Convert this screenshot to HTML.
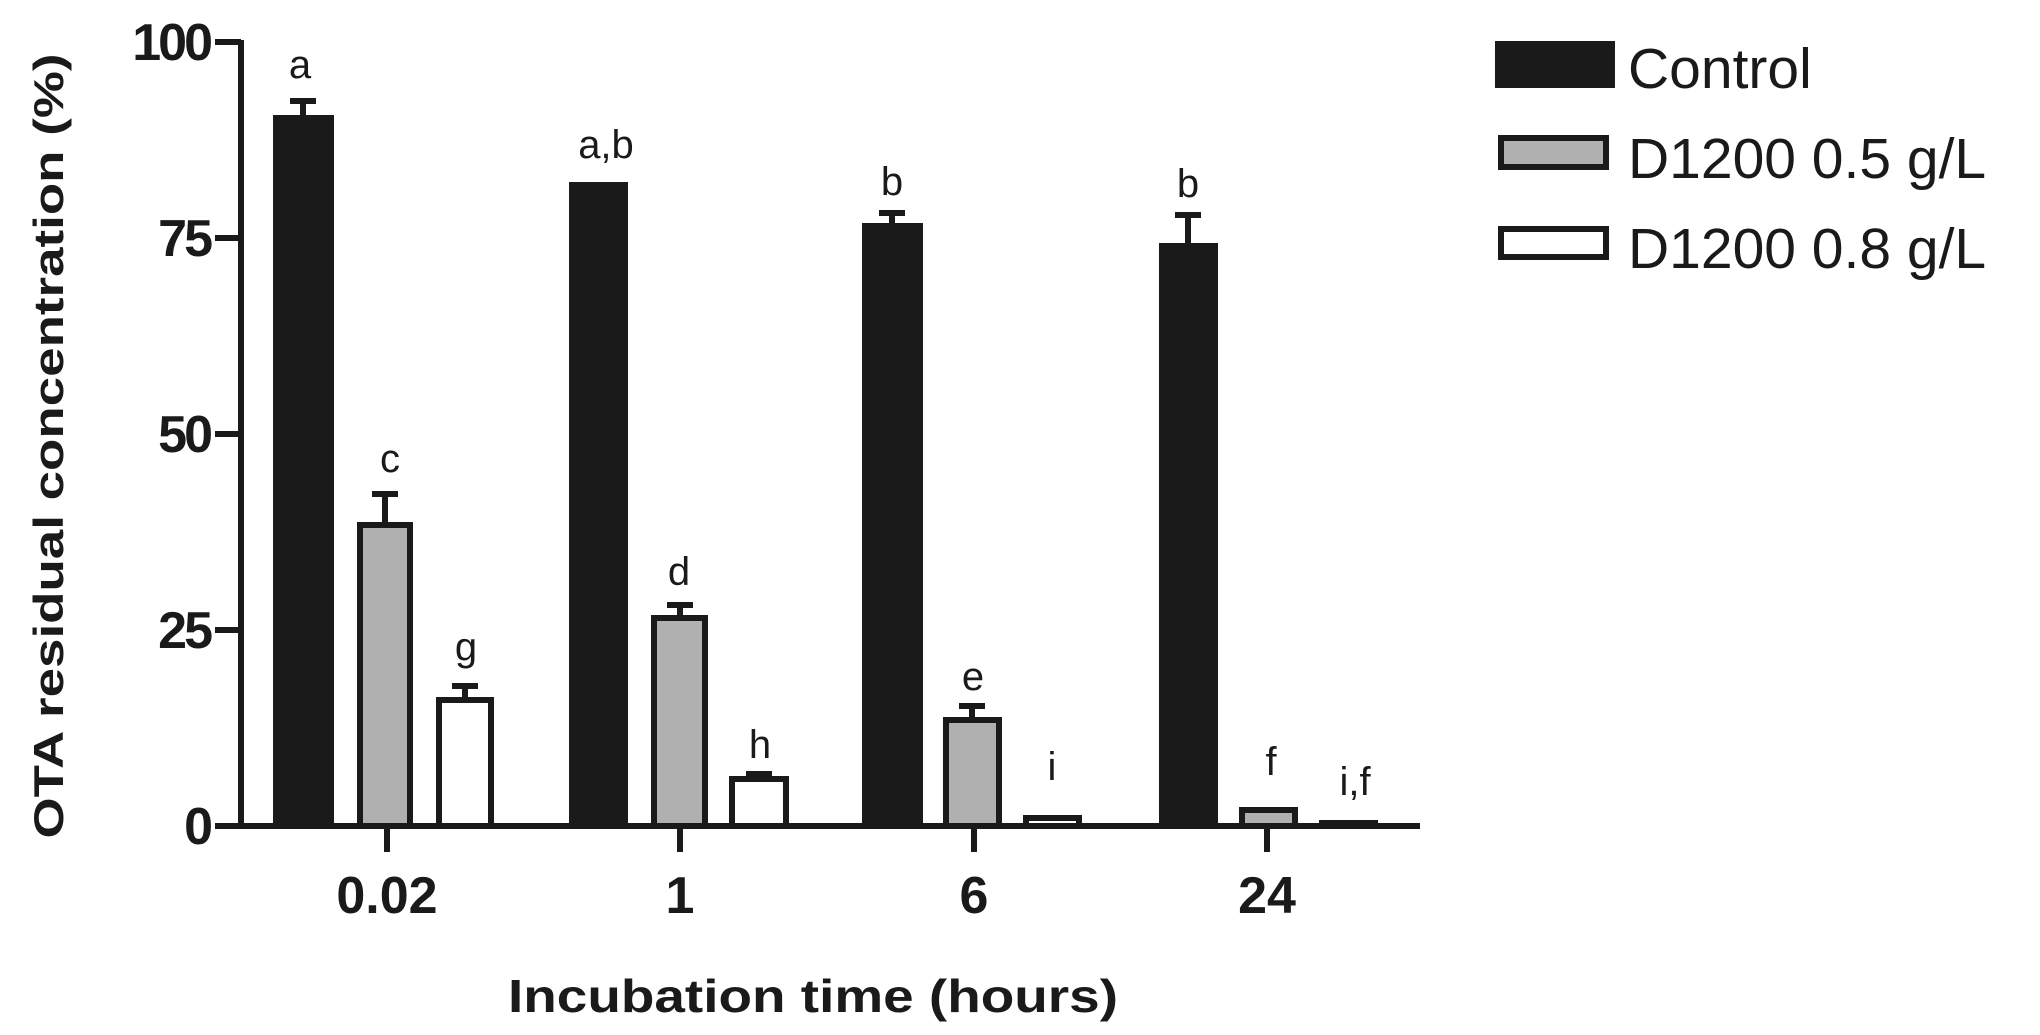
<!DOCTYPE html>
<html><head><meta charset="utf-8"><style>
html,body{margin:0;padding:0;background:#fff;}
svg{display:block;}
text{font-family:"Liberation Sans",Arial,sans-serif;fill:#1a1a1a;}
</style></head><body>
<svg width="2040" height="1035" viewBox="0 0 2040 1035" xmlns="http://www.w3.org/2000/svg">
<g stroke="#1a1a1a" stroke-width="6" fill="#1a1a1a">
<line x1="303" y1="101" x2="303" y2="118"/><line x1="290" y1="101" x2="316" y2="101"/>
<line x1="385" y1="494" x2="385" y2="525"/><line x1="372" y1="494" x2="398" y2="494"/>
<line x1="465" y1="686" x2="465" y2="700"/><line x1="452" y1="686" x2="478" y2="686"/>
<line x1="680" y1="605" x2="680" y2="618"/><line x1="667" y1="605" x2="693" y2="605"/>
<line x1="759" y1="774" x2="759" y2="779"/><line x1="746" y1="774" x2="772" y2="774"/>
<line x1="892" y1="213" x2="892" y2="226"/><line x1="879" y1="213" x2="905" y2="213"/>
<line x1="972" y1="706" x2="972" y2="720"/><line x1="959" y1="706" x2="985" y2="706"/>
<line x1="1188" y1="215" x2="1188" y2="246"/><line x1="1175" y1="215" x2="1201" y2="215"/>
<rect x="276" y="118" width="55" height="708"/>
<rect x="572" y="185" width="53" height="641"/>
<rect x="865" y="226" width="55" height="600"/>
<rect x="1162" y="246" width="53" height="580"/>
<rect x="360" y="525" width="50" height="301" fill="#b0b0b0"/>
<rect x="654" y="618" width="51" height="208" fill="#b0b0b0"/>
<rect x="946" y="720" width="53" height="106" fill="#b0b0b0"/>
<rect x="1242" y="810" width="53" height="16" fill="#b0b0b0"/>
<rect x="439" y="700" width="52" height="126" fill="#fff"/>
<rect x="732" y="779" width="54" height="47" fill="#fff"/>
<rect x="1026" y="818" width="53" height="8" fill="#fff"/>
<rect x="1322" y="823" width="53" height="3" fill="#fff"/>
<line x1="241" y1="40" x2="241" y2="829"/>
<line x1="238" y1="826" x2="1420" y2="826"/>
<line x1="215" y1="42" x2="241" y2="42"/>
<line x1="215" y1="238" x2="241" y2="238"/>
<line x1="215" y1="434" x2="241" y2="434"/>
<line x1="215" y1="630" x2="241" y2="630"/>
<line x1="215" y1="826" x2="241" y2="826"/>
<line x1="387" y1="826" x2="387" y2="852"/>
<line x1="680" y1="826" x2="680" y2="852"/>
<line x1="974" y1="826" x2="974" y2="852"/>
<line x1="1267" y1="826" x2="1267" y2="852"/>
<rect x="1498" y="44" width="114" height="41"/>
<rect x="1501" y="138" width="105" height="29" fill="#b0b0b0"/>
<rect x="1501" y="229" width="105" height="28" fill="#fff"/>
</g>
<g font-size="52" font-weight="bold" text-anchor="end" letter-spacing="-3">
<text x="210" y="60">100</text><text x="210" y="256">75</text><text x="210" y="452">50</text><text x="210" y="648">25</text><text x="210" y="844">0</text>
</g>
<g font-size="52" font-weight="bold" text-anchor="middle">
<text x="387" y="913">0.02</text><text x="680" y="913">1</text><text x="974" y="913">6</text><text x="1267" y="913">24</text>
</g>
<text x="813" y="1012" font-size="46" font-weight="bold" text-anchor="middle" textLength="610" lengthAdjust="spacingAndGlyphs">Incubation time (hours)</text>
<text transform="translate(63,446) rotate(-90)" font-size="42" font-weight="bold" text-anchor="middle" textLength="785" lengthAdjust="spacingAndGlyphs">OTA residual concentration (%)</text>
<g font-size="40" text-anchor="middle">
<text x="300" y="78">a</text><text x="606" y="158">a,b</text><text x="892" y="195">b</text><text x="1188" y="197">b</text>
<text x="390" y="472">c</text><text x="679" y="585">d</text><text x="973" y="690">e</text><text x="1271" y="775">f</text>
<text x="466" y="660">g</text><text x="760" y="758">h</text><text x="1052" y="780">i</text><text x="1355" y="795">i,f</text>
</g>
<g font-size="57">
<text x="1628" y="88">Control</text>
<text x="1628" y="178">D1200 0.5 g/L</text>
<text x="1628" y="268">D1200 0.8 g/L</text>
</g>
</svg>
</body></html>
